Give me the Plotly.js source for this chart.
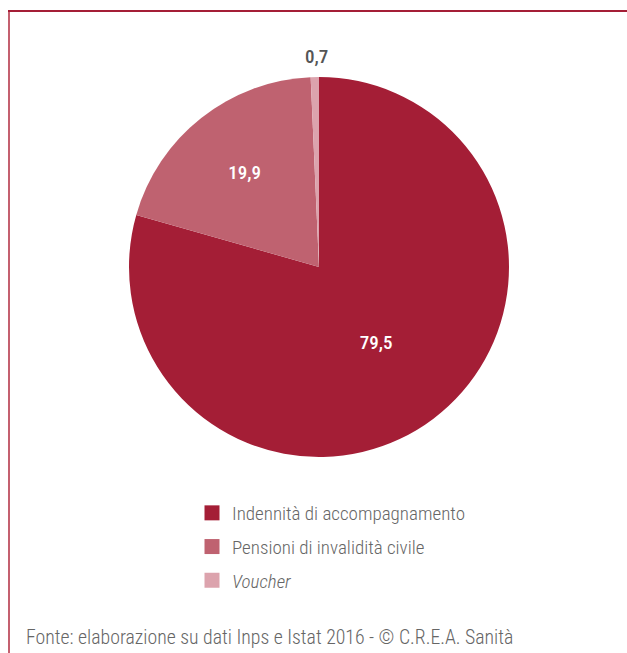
<!DOCTYPE html>
<html>
<head>
<meta charset="utf-8">
<script src="https://cdn.plot.ly/plotly-3.0.1.min.js"></script>
<style>
html,body{margin:0;padding:0;background:#fff;}
#chart{width:627px;height:653px;}
</style>
</head>
<body>
<div id="chart"></div>
<script>
// ---- data ----
const categories = ['Indennità di accompagnamento', 'Pensioni di invalidità civile', 'Voucher'];
const legendLabels = ['Indennità di accompagnamento', 'Pensioni di invalidità civile', '<i>Voucher</i>'];
const values = [79.5, 19.9, 0.7];
const sourceNote = 'Fonte: elaborazione su dati Inps e Istat 2016 - © C.R.E.A. Sanità';

// ---- styles ----
const sliceColors = ['#a41e36', '#bf6270', '#dca3ad'];
const FONT = '"Liberation Sans Narrow", "Roboto Condensed", Roboto, sans-serif';
const W = 627, H = 653;
const px = v => v / W;
const py = v => 1 - v / H;
const fmt = v => v.toFixed(1).replace('.', ',');

// small slices get their label outside, placed above the pie
const isSmall = values.map(v => v < 2);

const pie = {
  type: 'pie',
  labels: categories,
  values: values,
  sort: false,
  direction: 'clockwise',
  rotation: 0,
  marker: {colors: sliceColors, line: {width: 0}},
  text: values.map((v, i) => isSmall[i] ? '' : fmt(v)),
  textinfo: 'text',
  textposition: 'inside',
  insidetextorientation: 'horizontal',
  insidetextfont: {family: FONT, size: 19, color: '#ffffff', weight: 500},
  showlegend: false,
  hoverinfo: 'skip',
  domain: {x: [px(129), px(509)], y: [py(457), py(77)]}
};

const legendTraces = categories.map((c, i) => ({
  type: 'scatter',
  mode: 'markers',
  x: [null], y: [null],
  name: legendLabels[i],
  legendgroup: 'g' + i,
  marker: {symbol: 'square', size: 15, color: sliceColors[i]},
  hoverinfo: 'skip'
}));

const smallLabels = values.map((v, i) => ({v, i})).filter(d => isSmall[d.i]).map(d => ({
  text: fmt(d.v),
  xref: 'paper', yref: 'paper',
  x: px(316), y: py(57),
  xanchor: 'center', yanchor: 'middle',
  showarrow: false,
  font: {family: FONT, size: 19, color: '#555555', weight: 500}
}));

const layout = {
  width: W, height: H,
  margin: {l: 0, r: 0, t: 0, b: 0},
  paper_bgcolor: '#ffffff',
  plot_bgcolor: '#ffffff',
  separators: ',.',
  xaxis: {visible: false},
  yaxis: {visible: false},
  showlegend: true,
  legend: {
    x: px(192), xanchor: 'left',
    y: py(494), yanchor: 'top',
    traceorder: 'grouped',
    tracegroupgap: 6,
    font: {family: FONT, size: 19, color: '#666666', weight: 300},
    bgcolor: 'rgba(0,0,0,0)'
  },
  annotations: smallLabels.concat([{
    text: sourceNote,
    xref: 'paper', yref: 'paper',
    x: px(24), y: py(637),
    xanchor: 'left', yanchor: 'middle',
    showarrow: false,
    font: {family: FONT, size: 19.8, color: '#666666', weight: 300}
  }]),
  shapes: [
    {type: 'line', xref: 'paper', yref: 'paper', x0: px(9), x1: px(9), y0: 0, y1: py(11),
     line: {color: '#c4606f', width: 2}},
    {type: 'line', xref: 'paper', yref: 'paper', x0: px(8), x1: 1, y0: py(11), y1: py(11),
     line: {color: '#a41e36', width: 2}}
  ]
};

Plotly.newPlot('chart', [pie].concat(legendTraces), layout, {staticPlot: true, displayModeBar: false});
</script>
</body>
</html>
